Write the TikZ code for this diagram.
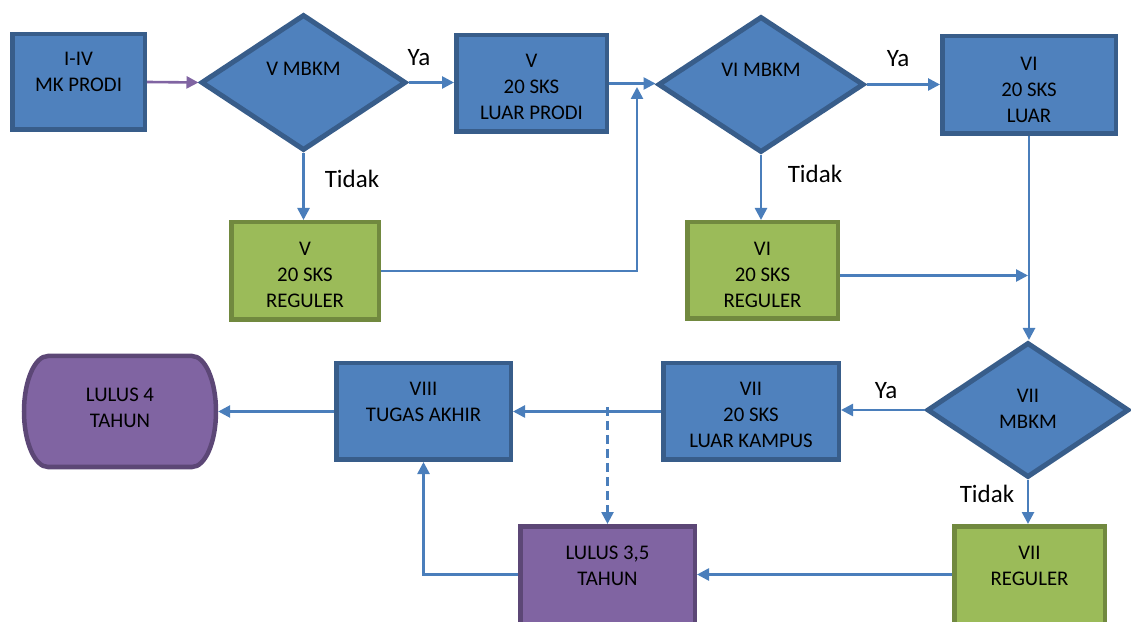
\documentclass[tikz,border=0pt]{standalone}
\usepackage{fontspec}
\setmainfont{Carlito}
\usetikzlibrary{shapes.geometric,arrows.meta,backgrounds}
\definecolor{bfill}{HTML}{4F81BD}
\definecolor{bbord}{HTML}{385D8A}
\definecolor{gfill}{HTML}{9BBB59}
\definecolor{gbord}{HTML}{71893F}
\definecolor{pfill}{HTML}{8064A2}
\definecolor{pbord}{HTML}{5C4776}
\definecolor{conncol}{HTML}{4A7EBB}
\begin{document}
\begin{tikzpicture}[x=1pt,y=1pt,
  box/.style={rectangle, line width=4.5pt, inner sep=0pt},
  bluebox/.style={box, draw=bbord, fill=bfill},
  greenbox/.style={box, draw=gbord, fill=gfill},
  purplebox/.style={box, draw=pbord, fill=pfill},
  decision/.style={diamond, draw=bbord, fill=bfill, line width=5pt, inner sep=0pt},
  txt/.style={anchor=north, align=center, inner sep=0pt, text=black, font=\fontsize{20.8}{26}\selectfont},
  lbl/.style={inner sep=0pt, text=black, font=\fontsize{25}{30}\selectfont},
  conn/.style={draw=conncol, line width=2.6pt, -{Triangle[length=12pt,width=12pt]}},
]
\useasboundingbox (0,0) rectangle (1131,621);

% shapes
\node[bluebox, minimum width=132.5, minimum height=95.5] (bA) at (78.5,539) {};
\node[decision, minimum width=205, minimum height=136] (d1) at (303.5,538.5) {};
\node[bluebox, minimum width=150.5, minimum height=96.5] (bB) at (531.5,537.5) {};
\node[greenbox, minimum width=147.5, minimum height=97.5] (bC) at (305,350) {};
\node[decision, minimum width=206, minimum height=136] (d2) at (761,536.5) {};
\node[bluebox, minimum width=173.5, minimum height=97.5] (bD) at (1029,536) {};
\node[greenbox, minimum width=150.5, minimum height=96.5] (bE) at (762.5,350.5) {};
\node[decision, minimum width=202, minimum height=135] (d3) at (1028,211) {};
\node[bluebox, minimum width=175.5, minimum height=96.5] (bF) at (751,209.5) {};
\node[bluebox, minimum width=174.5, minimum height=96.5] (bG) at (423.5,209.5) {};
\node[rectangle, minimum width=196, minimum height=115, inner sep=0pt] (L4) at (120,209.5) {};
\node[purplebox, minimum width=174.5, minimum height=104.5] (bH) at (607.5,42.5) {};
\node[greenbox, minimum width=150.5, minimum height=104.5] (bI) at (1029.5,42.5) {};

\begin{scope}[on background layer]
  \draw[draw=pbord, fill=pfill, line width=4.5pt]
    (48,265) -- (192,265) arc[start angle=90, end angle=-90, x radius=24, y radius=55.5]
    -- (48,154) arc[start angle=270, end angle=90, x radius=24, y radius=55.5] -- cycle;
\end{scope}

% texts
\node[txt] (tA) at (78.5,568.7) {I-IV\\MK PRODI};
\node[txt] (td1) at (303.5,558.7) {V MBKM};
\node[txt] (tB) at (531.5,566.7) {V\\20 SKS\\LUAR PRODI};
\node[txt] (tC) at (305,379.2) {V\\20 SKS\\REGULER};
\node[txt] (td2) at (761,557.7) {VI MBKM};
\node[txt] (tD) at (1029,564.2) {VI\\20 SKS\\LUAR};
\node[txt] (tE) at (762.5,379.2) {VI\\20 SKS\\REGULER};
\node[txt] (td3) at (1028,232.2) {VII\\MBKM};
\node[txt] (tF) at (751,238.7) {VII\\20 SKS\\LUAR KAMPUS};
\node[txt] (tG) at (423.5,238.7) {VIII\\TUGAS AKHIR};
\node[txt] (tL4) at (120,232.7) {LULUS 4\\TAHUN};
\node[txt] (tH) at (607.5,75.2) {LULUS 3,5\\TAHUN};
\node[txt] (tI) at (1029.5,75.2) {VII\\REGULER};

% labels
\node[lbl] (ya1) at (419,563) {Ya};
\node[lbl] (ti1) at (352,442) {Tidak};
\node[lbl] (ya2) at (898,562) {Ya};
\node[lbl] (ti2) at (815,447) {Tidak};
\node[lbl] (ya3) at (886,230) {Ya};
\node[lbl] (ti3) at (987,127) {Tidak};

% junction coordinates
\coordinate (j1) at (637,534);
\coordinate (j2) at (1028,345.5);
\coordinate (j3) at (607.5,214);
\coordinate (hy) at (0,46.5);

% connectors
\draw[conn, draw=pfill] (bA.east) -- (d1.west);
\draw[conn] (d1.east) -- (d1.east -| bB.west);
\draw[conn] (d1.south) -- (d1.south |- bC.north);
\draw[conn] (bC.east) -| (j1);
\draw[conn] (bB.east) -- (bB.east -| d2.west);
\draw[conn] (d2.east) -- (d2.east -| bD.west);
\draw[conn] (d2.south) -- (d2.south |- bE.north);
\draw[conn] (bE.east |- j2) -- (j2);
\draw[conn] (bD.south) -- (bD.south |- d3.north);
\draw[conn] (d3.west) -- (d3.west -| bF.east);
\draw[conn] (d3.south) -- (d3.south |- bI.north);
\draw[conn] (bF.west) -- (bG.east);
\draw[conn, dash pattern=on 9pt off 5pt] (j3) -- (j3 |- bH.north);
\draw[conn] (bG.west) -- (L4.east);
\draw[conn] (bH.west |- hy) -| (bG.south);
\draw[conn] (bI.west |- hy) -- (bH.east |- hy);
\end{tikzpicture}
\end{document}
